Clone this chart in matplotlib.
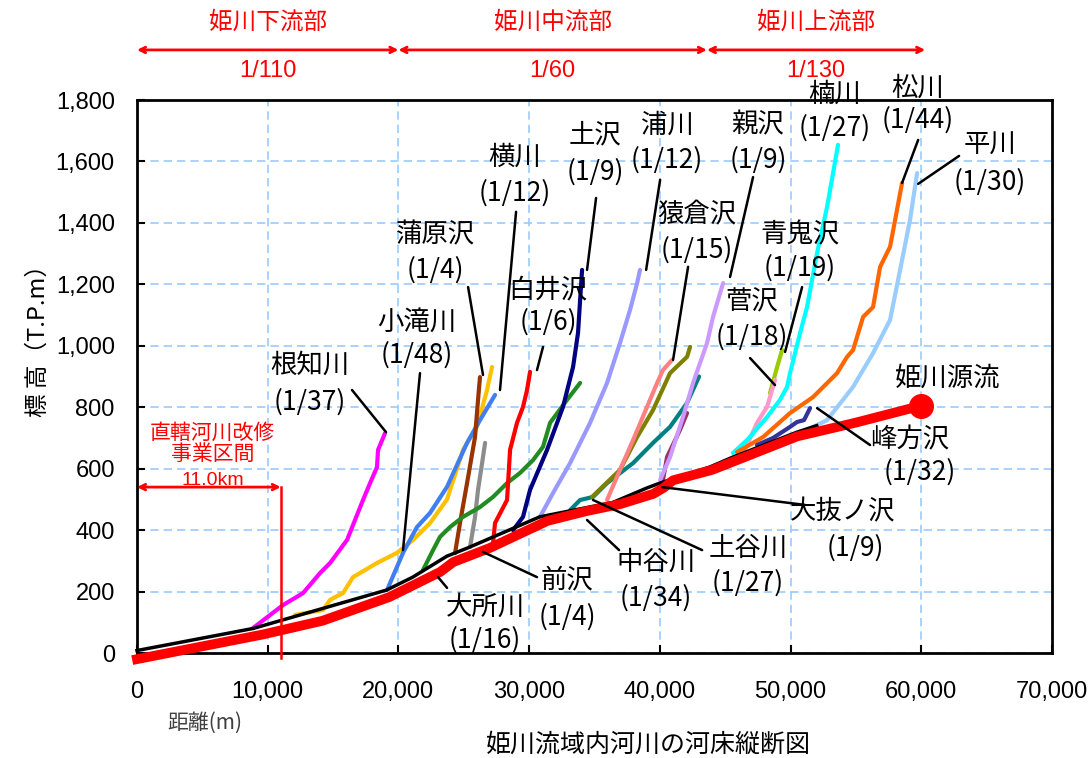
import matplotlib.pyplot as plt
from matplotlib.ticker import FuncFormatter, MultipleLocator

JP = ['Noto Sans CJK JP', 'DejaVu Sans']
NUM = ['Liberation Sans', 'DejaVu Sans']
plt.rcParams['font.family'] = JP

# main river (姫川) profile: black survey line and red thick line
main_x = [0, 8900, 19100, 21100, 23700, 25300, 30800, 33400, 36400, 39000, 40000, 43800, 45600, 50500, 52000]
main_y = [8, 80, 205, 247, 315, 342, 443, 465, 490, 537, 553, 605, 638, 719, 740]
red_x = [0, 9600, 14200, 19300, 23200, 24200, 27000, 31400, 34400, 37000, 39500, 40300, 41000, 44000, 50500, 55000, 60000]
red_y = [-20, 60, 105, 182, 264, 296, 342, 430, 462, 485, 518, 538, 562, 596, 705, 750, 805]

# tributaries
nechi_x = [8870, 11170, 12700, 14000, 14770, 16070, 17290, 17830, 18360, 18440, 18980]
nechi_y = [81, 156, 195, 260, 293, 368, 498, 553, 605, 661, 716]
kotaki_x = [12090, 14230, 14770, 15760, 16530, 18360, 19890, 21120, 22420, 23720, 24940, 26010, 26780, 27160]
kotaki_y = [124, 140, 173, 195, 247, 293, 326, 368, 423, 500, 661, 736, 856, 931]
gamahara_x = [24330, 24710, 25250, 25860, 26090, 26240]
gamahara_y = [325, 423, 553, 703, 824, 898]
yoko_x = [19130, 20350, 21420, 22420, 23720, 25250, 26240, 27390]
yoko_y = [205, 326, 410, 456, 541, 684, 758, 840]
mae_x = [25480, 25860, 26090, 26400, 26630]
mae_y = [345, 443, 531, 618, 684]
odokoro_x = [21880, 22650, 23180, 23950, 24940, 26240, 27240, 28310, 29300, 30300, 31060, 31600, 32900, 33900]
odokoro_y = [270, 335, 378, 410, 443, 475, 508, 553, 586, 628, 671, 749, 824, 879]
shirai_x = [27240, 27390, 28310, 28540, 29070, 29530, 29840, 30070]
shirai_y = [358, 423, 498, 661, 749, 801, 856, 915]
tsuchi_x = [28770, 29530, 30070, 31370, 32590, 33360, 33740, 33900, 34050]
tsuchi_y = [400, 443, 531, 661, 801, 931, 1042, 1149, 1247]
ura_x = [30830, 31830, 33130, 34660, 35960, 36950, 37720, 38260, 38480]
ura_y = [443, 521, 618, 749, 879, 1009, 1117, 1204, 1247]
nakaya_x = [33130, 33900, 34890, 35960, 37950, 39480, 40780, 42080, 43000]
nakaya_y = [465, 498, 508, 553, 618, 684, 736, 814, 900]
tsuchiya_x = [34810, 36950, 38260, 39480, 40780, 42080, 42310]
tsuchiya_y = [508, 596, 703, 791, 911, 964, 996]
sarukura_x = [35960, 36950, 37950, 39020, 39790, 40240, 40930]
sarukura_y = [498, 596, 693, 801, 879, 921, 954]
onuke_x = [40240, 40550, 41540, 42080]
onuke_y = [563, 638, 726, 781]
oya_x = [40020, 40780, 41770, 42540, 43610, 44070, 44610, 44840]
oya_y = [563, 638, 768, 879, 1009, 1094, 1172, 1204]
suge_x = [46500, 47430, 48200, 48660, 48810]
suge_y = [660, 749, 801, 866, 889]
aoni_x = [48430, 48970, 49350]
aoni_y = [846, 931, 986]
kusu_x = [45600, 46670, 48200, 49190, 49730, 49960, 50730, 51260, 52030, 52790, 53250, 53630]
kusu_y = [651, 693, 768, 824, 866, 911, 1042, 1126, 1302, 1452, 1562, 1654]
matsu_x = [45910, 47900, 49960, 51720, 53560, 54320, 54780, 55550, 56310, 56850, 57610, 58530]
matsu_y = [654, 703, 781, 833, 911, 964, 986, 1094, 1126, 1257, 1322, 1530]
hira_x = [51260, 52790, 54780, 56310, 57610, 58380, 59140, 59680]
hira_y = [726, 758, 866, 976, 1084, 1247, 1410, 1562]
minekata_x = [47430, 48660, 49960, 50500, 51030, 51490]
minekata_y = [677, 700, 736, 752, 758, 797]

fig = plt.figure(figsize=(10.88, 7.58), dpi=100)
ax = fig.add_axes([137 / 1088, 1 - 653 / 758, 915 / 1088, 553 / 758])

tribs = [
    (nechi_x, nechi_y, '#ff00ff'), (kotaki_x, kotaki_y, '#ffc000'),
    (yoko_x, yoko_y, '#3f7ff0'), (gamahara_x, gamahara_y, '#993300'),
    (mae_x, mae_y, '#8c8c8c'), (odokoro_x, odokoro_y, '#228b22'),
    (shirai_x, shirai_y, '#ff0000'), (tsuchi_x, tsuchi_y, '#000080'),
    (ura_x, ura_y, '#9999ff'), (nakaya_x, nakaya_y, '#008080'),
    (tsuchiya_x, tsuchiya_y, '#808000'), (sarukura_x, sarukura_y, '#ff8080'),
    (onuke_x, onuke_y, '#993366'), (oya_x, oya_y, '#cc99ff'),
    (aoni_x, aoni_y, '#99cc00'), (suge_x, suge_y, '#ff99cc'),
    (kusu_x, kusu_y, '#00ffff'), (matsu_x, matsu_y, '#ff6600'),
    (hira_x, hira_y, '#99ccff'), (minekata_x, minekata_y, '#333399'),
]
for tx, ty, c in tribs:
    ax.plot(tx, ty, color=c, lw=3, solid_capstyle='round', zorder=3)

ax.plot(main_x, main_y, color='black', lw=2.5, zorder=4, clip_on=False)
ax.plot(red_x, red_y, color='#ff0000', lw=7, zorder=5, clip_on=False)
ax.plot(red_x[-1], red_y[-1], 'o', color='#ff0000', ms=17, zorder=6)

ax.set_xlim(0, 70000)
ax.set_ylim(0, 1800)
ax.xaxis.set_major_locator(MultipleLocator(10000))
ax.yaxis.set_major_locator(MultipleLocator(200))
fmt = FuncFormatter(lambda v, p: '{:,.0f}'.format(v))
ax.xaxis.set_major_formatter(fmt)
ax.yaxis.set_major_formatter(fmt)
ax.grid(True, color='#99ccff', ls=(0, (5, 3)), lw=1.2)
ax.set_axisbelow(True)
for s in ax.spines.values():
    s.set_linewidth(2)
ax.tick_params(direction='in', length=6, width=1.5)
ax.tick_params(axis='x', pad=20)
ax.tick_params(axis='y', pad=16)
for lb in ax.get_xticklabels() + ax.get_yticklabels():
    lb.set_family(NUM)
    lb.set_fontsize(17)

# labels: name, gradient, name pos, gradient pos, leader start, leader end
labels = [
    ('根知川', '(1/37)', (13240, 937), (13240, 817), (16450, 856), (19050, 719)),
    ('小滝川', '(1/48)', (21420, 1077), (21420, 970), (21650, 911), (20350, 335)),
    ('蒲原沢', '(1/4)', (22800, 1361), (22800, 1247), (25330, 1191), (26470, 905)),
    ('横川', '(1/12)', (28920, 1615), (28920, 1497), (29000, 1436), (27770, 856)),
    ('土沢', '(1/9)', (35040, 1686), (35040, 1566), (35120, 1481), (34430, 1247)),
    ('浦川', '(1/12)', (40550, 1719), (40550, 1605), (40020, 1540), (38950, 1247)),
    ('白井沢', '(1/6)', (31450, 1182), (31450, 1077), (31060, 996), (30600, 921)),
    ('猿倉沢', '(1/15)', (42850, 1426), (42850, 1312), (42160, 1257), (41010, 954)),
    ('親沢', '(1/9)', (47510, 1719), (47510, 1605), (47130, 1549), (45370, 1224)),
    ('楠川', '(1/27)', (53400, 1820), (53400, 1709), None, None),
    ('松川', '(1/44)', (59750, 1839), (59750, 1735), (59760, 1670), (58530, 1530)),
    ('平川', '(1/30)', (65260, 1654), (65260, 1533), (62890, 1618), (59760, 1527)),
    ('青鬼沢', '(1/19)', (50730, 1361), (50730, 1253), (50880, 1191), (49580, 980)),
    ('菅沢', '(1/18)', (47050, 1143), (47050, 1029), (46900, 960), (48810, 872)),
    ('峰方沢', '(1/32)', (59140, 693), (59900, 589), (52030, 797), (56080, 677)),
    ('大抜ノ沢', '(1/9)', (54020, 459), (54930, 342), (51110, 482), (40170, 540)),
    ('土谷川', '(1/27)', (46750, 342), (46750, 228), (43230, 335), (34890, 498)),
    ('中谷川', '(1/34)', (39710, 296), (39710, 179), (36880, 335), (34430, 433)),
    ('前沢', '(1/4)', (32900, 238), (32900, 117), (30600, 247), (26470, 329)),
    ('大所川', '(1/16)', (26630, 150), (26630, 42), (23720, 212), (23030, 247)),
]
for name, grad, p1, p2, l0, l1 in labels:
    ax.text(p1[0], p1[1], name, fontsize=19, ha='center', va='center', zorder=7)
    ax.text(p2[0], p2[1], grad, fontsize=19, ha='center', va='center', zorder=7)
    if l0 is not None:
        ax.annotate('', xy=l1, xytext=l0, zorder=7,
                    arrowprops=dict(arrowstyle='-', color='black', lw=1.8,
                                    shrinkA=0, shrinkB=0))
ax.text(62050, 895, '姫川源流', fontsize=19, ha='center', va='center', zorder=7)

# reach arrows above the plot
reaches = [('姫川下流部', '1/110', 0, 20000), ('姫川中流部', '1/60', 20000, 43600),
           ('姫川上流部', '1/130', 43600, 60300)]
for nm, gr, a, b in reaches:
    ax.annotate('', xy=(a, 1963), xytext=(b, 1963), annotation_clip=False,
                arrowprops=dict(arrowstyle='<->', color='#ff0000', lw=2,
                                shrinkA=0, shrinkB=0))
    ax.text((a + b) / 2, 2054, nm, color='#ff0000', fontsize=17, ha='center', va='center')
    ax.text((a + b) / 2, 1895, gr, color='#ff0000', fontsize=17, ha='center', va='center',
            family=NUM)

# 直轄河川改修事業区間
ax.annotate('', xy=(0, 540), xytext=(11000, 540),
            arrowprops=dict(arrowstyle='<->', color='#ff0000', lw=2, shrinkA=0, shrinkB=0))
ax.plot([11000, 11000], [540, -15], color='#ff0000', lw=1.8, zorder=6, clip_on=False)
ax.text(5800, 682, '直轄河川改修\n事業区間', color='#ff0000', fontsize=15,
        ha='center', va='center', linespacing=1.0)
ax.text(5800, 560, '11.0km', color='#ff0000', fontsize=14, ha='center', va='center',
        family=NUM)

fig.text(38 / 1088, 1 - 335 / 758, '標 高（T.P.m）', rotation=90, fontsize=17,
         ha='center', va='center')
fig.text(205 / 1088, 1 - 723 / 758, '距離(m)', fontsize=15, color='#404040',
         ha='center', va='center')
fig.text(648 / 1088, 1 - 745 / 758, '姫川流域内河川の河床縦断図', fontsize=18,
         ha='center', va='center')

fig.savefig('out.png', dpi=100)
